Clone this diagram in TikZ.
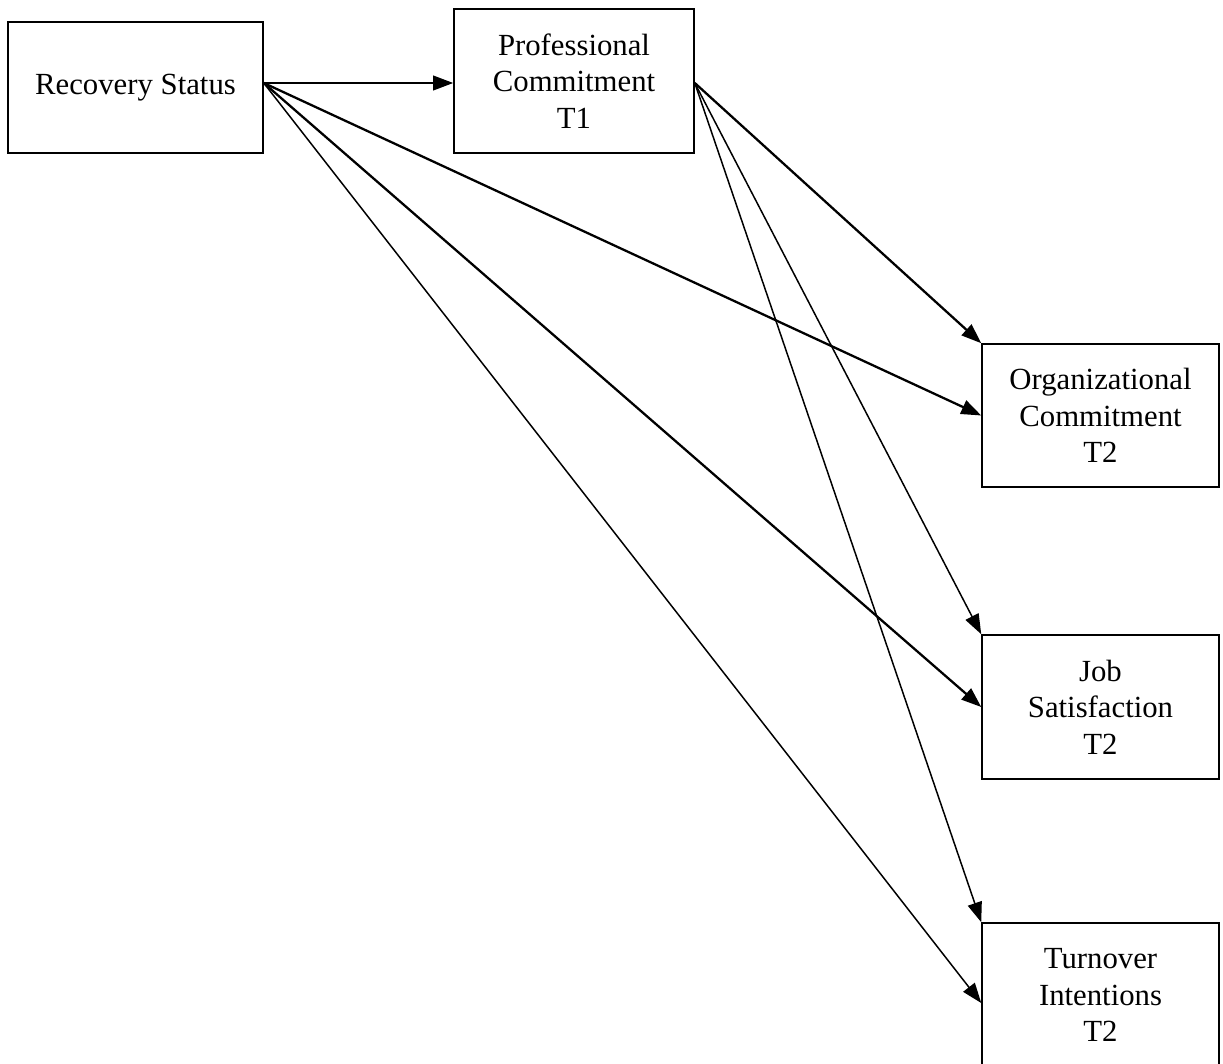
\documentclass[tikz,border=0pt]{standalone}
\usepackage{fontspec}
\setmainfont{Liberation Serif}
\usetikzlibrary{arrows.meta,positioning,calc}

\begin{document}
\begin{tikzpicture}[x=0.02cm, y=-0.02cm, >={Triangle[length=0.4cm,width=0.29cm]},
    font=\fontsize{17.5}{20.8}\selectfont,
    varbox/.style={draw, line width=0.9pt, align=center, inner sep=0pt},
    heavy/.style={->, line width=1.3pt},
    light/.style={->, line width=0.85pt}]
    \clip (0,0) rectangle (1223,1064);
    \node[varbox, minimum width=5.1cm, minimum height=2.62cm] (rec) at (135.5,87.5) {Recovery Status};
    \node[varbox, minimum width=4.8cm, minimum height=2.88cm] (prof) at (574,81) {Professional\\Commitment\\T1};
    \node[varbox, minimum width=4.74cm, minimum height=2.86cm] (org) at (1100.5,415.5) {Organizational\\Commitment\\T2};
    \node[varbox, minimum width=4.74cm, minimum height=2.88cm] (job) at (1100.5,707) {Job\\Satisfaction\\T2};
    \node[varbox, minimum width=4.74cm, minimum height=2.88cm] (turn) at (1100.5,995) {Turnover\\Intentions\\T2};
    \coordinate (recout) at ([yshift=0.09cm]rec.east);
    \coordinate (profout) at ([yshift=-0.04cm]prof.east);
    \draw[heavy] (recout) -- (recout -| prof.west);
    \draw[heavy] (recout) -- (org.west);
    \draw[heavy] (recout) -- (job.west);
    \draw[light] (recout) -- ([yshift=-0.16cm]turn.west);
    \draw[heavy] (profout) -- (org.north west);
    \draw[light] (profout) -- (job.north west);
    \draw[light] (profout) -- (turn.north west);
\end{tikzpicture}
\end{document}
